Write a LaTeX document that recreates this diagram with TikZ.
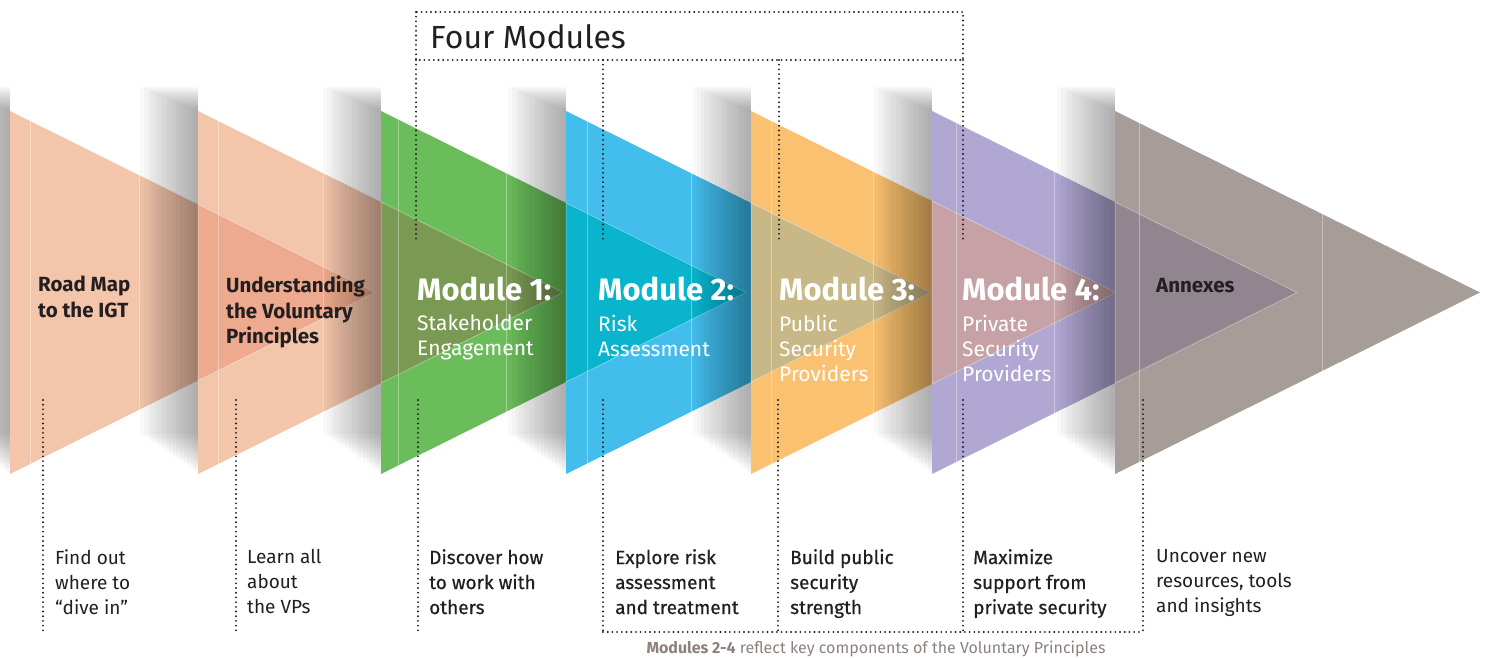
\documentclass[tikz,border=0pt]{standalone}
\usepackage{fontspec}
\setmainfont{Fira Sans}
\newfontfamily\medfont{Fira Sans}[FakeBold=0.6]
\usepackage{xcolor}
\usepackage{tikz}
\usetikzlibrary{positioning}

\definecolor{roadsalmon}{HTML}{F3C5AB}
\definecolor{modgreen}{HTML}{6ABD5A}
\definecolor{modblue}{HTML}{43BDEC}
\definecolor{modorange}{HTML}{FAC171}
\definecolor{modpurple}{HTML}{B1A7D3}
\definecolor{annexgray}{HTML}{A69D99}
\definecolor{ovsalmon}{HTML}{EDAA8E}
\definecolor{ovgreen}{HTML}{7A9A53}
\definecolor{ovblue}{HTML}{0AB4CD}
\definecolor{ovorange}{HTML}{C8B887}
\definecolor{ovpurple}{HTML}{C6A2A6}
\definecolor{ovannex}{HTML}{918690}
\definecolor{inkdark}{HTML}{231F20}
\definecolor{capgray}{HTML}{8C817D}

\tikzset{
  faint/.style={white,opacity=0.35,line width=0.6pt},
  dotline/.style={inkdark,line width=2.1pt,dash pattern=on 0pt off 4.7pt,line cap=round},
  tridark/.style={anchor=north west,inner sep=0pt,align=left,text=inkdark,
    font=\fontsize{20.5}{25.5}\selectfont\bfseries},
  modtitle/.style={anchor=north west,inner sep=0pt,text=white,
    font=\fontsize{31}{31}\selectfont\bfseries},
  modsub/.style={inner sep=0pt,align=left,text=white,
    font=\fontsize{21}{25}\selectfont},
  note/.style={anchor=north west,inner sep=0pt,align=left,text=inkdark,
    font=\fontsize{19}{25}\selectfont},
  notemed/.style={note,font=\fontsize{19}{25}\selectfont\medfont}
}

\begin{document}
\begin{tikzpicture}[x=1pt,y=-1pt]
    \useasboundingbox (0,0) rectangle (1489,658);

    % first arrow
    \foreach \k in {1,...,16}
        \fill[black,opacity=0.025] (10-3.6*\k,111-1.5*\k) rectangle (10,474-2.5*\k);
    \fill[roadsalmon] (10,111) -- (375,292.5) -- (10,474) -- cycle;
    \foreach \f in {20,129}
        \draw[faint] (10+\f,111+0.497*\f) -- (10+\f,474-0.497*\f);

    % the other arrows, each with the tip of the one before showing through
    \foreach \l/\p/\c/\o/\fa/\fb in {198/10/roadsalmon/ovsalmon/20/125,
        381/198/modgreen/ovgreen/17/125, 566/381/modblue/ovblue/21/125,
        751/566/modorange/ovorange/20/122, 932/751/modpurple/ovpurple/24/122,
        1115/932/annexgray/ovannex/24/207}{
        \foreach \k in {1,...,16}
            \fill[black,opacity=0.025] (\l-3.6*\k,111-1.5*\k) rectangle (\l,474-2.5*\k);
        \fill[\c] (\l,111) -- (\l+365,292.5) -- (\l,474) -- cycle;
        \pgfmathsetmacro\dy{0.49726*(\l-\p)}
        \fill[\o,draw=white,draw opacity=0.5,line width=0.5pt]
            (\l,111+\dy) -- (\p+365,292.5) -- (\l,474-\dy) -- cycle;
        \foreach \f in {\fa,\fb}
            \draw[faint] (\l+\f,111+0.497*\f) -- (\l+\f,474-0.497*\f);
    }

    % labels in the arrows
    \node[tridark] (igt) at (38,276) {Road Map\\to the IGT};
    \node[tridark] (vps) at (226,276) {Understanding\\the Voluntary\\Principles};
    \node[modtitle] (m1) at (417,277) {Module 1:};
    \node[modsub,below right=13pt and 0pt of m1.south west] (m1s) {Stakeholder\\Engagement};
    \node[modtitle] (m2) at (598,277) {Module 2:};
    \node[modsub,below right=13pt and 0pt of m2.south west] (m2s) {Risk\\Assessment};
    \node[modtitle] (m3) at (779,277) {Module 3:};
    \node[modsub,below right=13pt and 0pt of m3.south west] (m3s) {Public\\Security\\Providers};
    \node[modtitle] (m4) at (962,277) {Module 4:};
    \node[modsub,below right=13pt and 0pt of m4.south west] (m4s) {Private\\Security\\Providers};
    \node[tridark] (anx) at (1156,278) {Annexes};

    % four modules bracket
    \coordinate (fm-nw) at (416,12);
    \coordinate (fm-se) at (963,60);
    \draw[dotline] (fm-nw) rectangle (fm-se);
    \node[anchor=north west,inner sep=0pt,text=inkdark,font=\fontsize{32}{32}\selectfont]
        (four) at (430,24) {Four Modules};
    \foreach \x [count=\n] in {416,603,779,963}{
        \coordinate (u\n-top) at (\x,60);
        \coordinate (u\n-bot) at (\x,242);
        \draw[dotline] (u\n-top) -- (u\n-bot);
    }

    % markers down to the notes
    \foreach \x [count=\n] in {43,236,418,603,778,963,1143}{
        \coordinate (d\n-top) at (\x,400);
        \coordinate (d\n-bot) at (\x,632);
        \draw[dotline] (d\n-top) -- (d\n-bot);
    }
    \draw[dotline] (d4-bot) -- (d7-bot);

    % notes
    \node[note] (n1) at (55,549) {Find out\\where to\\“dive in”};
    \node[note] (n2) at (247,549) {Learn all\\about\\the VPs};
    \node[notemed] (n3) at (429,549) {Discover how\\to work with\\others};
    \node[notemed] (n4) at (615,549) {Explore risk\\assessment\\and treatment};
    \node[notemed] (n5) at (790,549) {Build public\\security\\strength};
    \node[notemed] (n6) at (973,549) {Maximize\\support from\\private security};
    \node[note] (n7) at (1156,549) {Uncover new\\resources, tools\\and insights};

    \node[anchor=base,inner sep=0pt,text=capgray,font=\fontsize{16}{16}\selectfont]
        (cap) at (876,653) {\textbf{Modules 2-4} reflect key components of the Voluntary Principles};
\end{tikzpicture}
\end{document}
